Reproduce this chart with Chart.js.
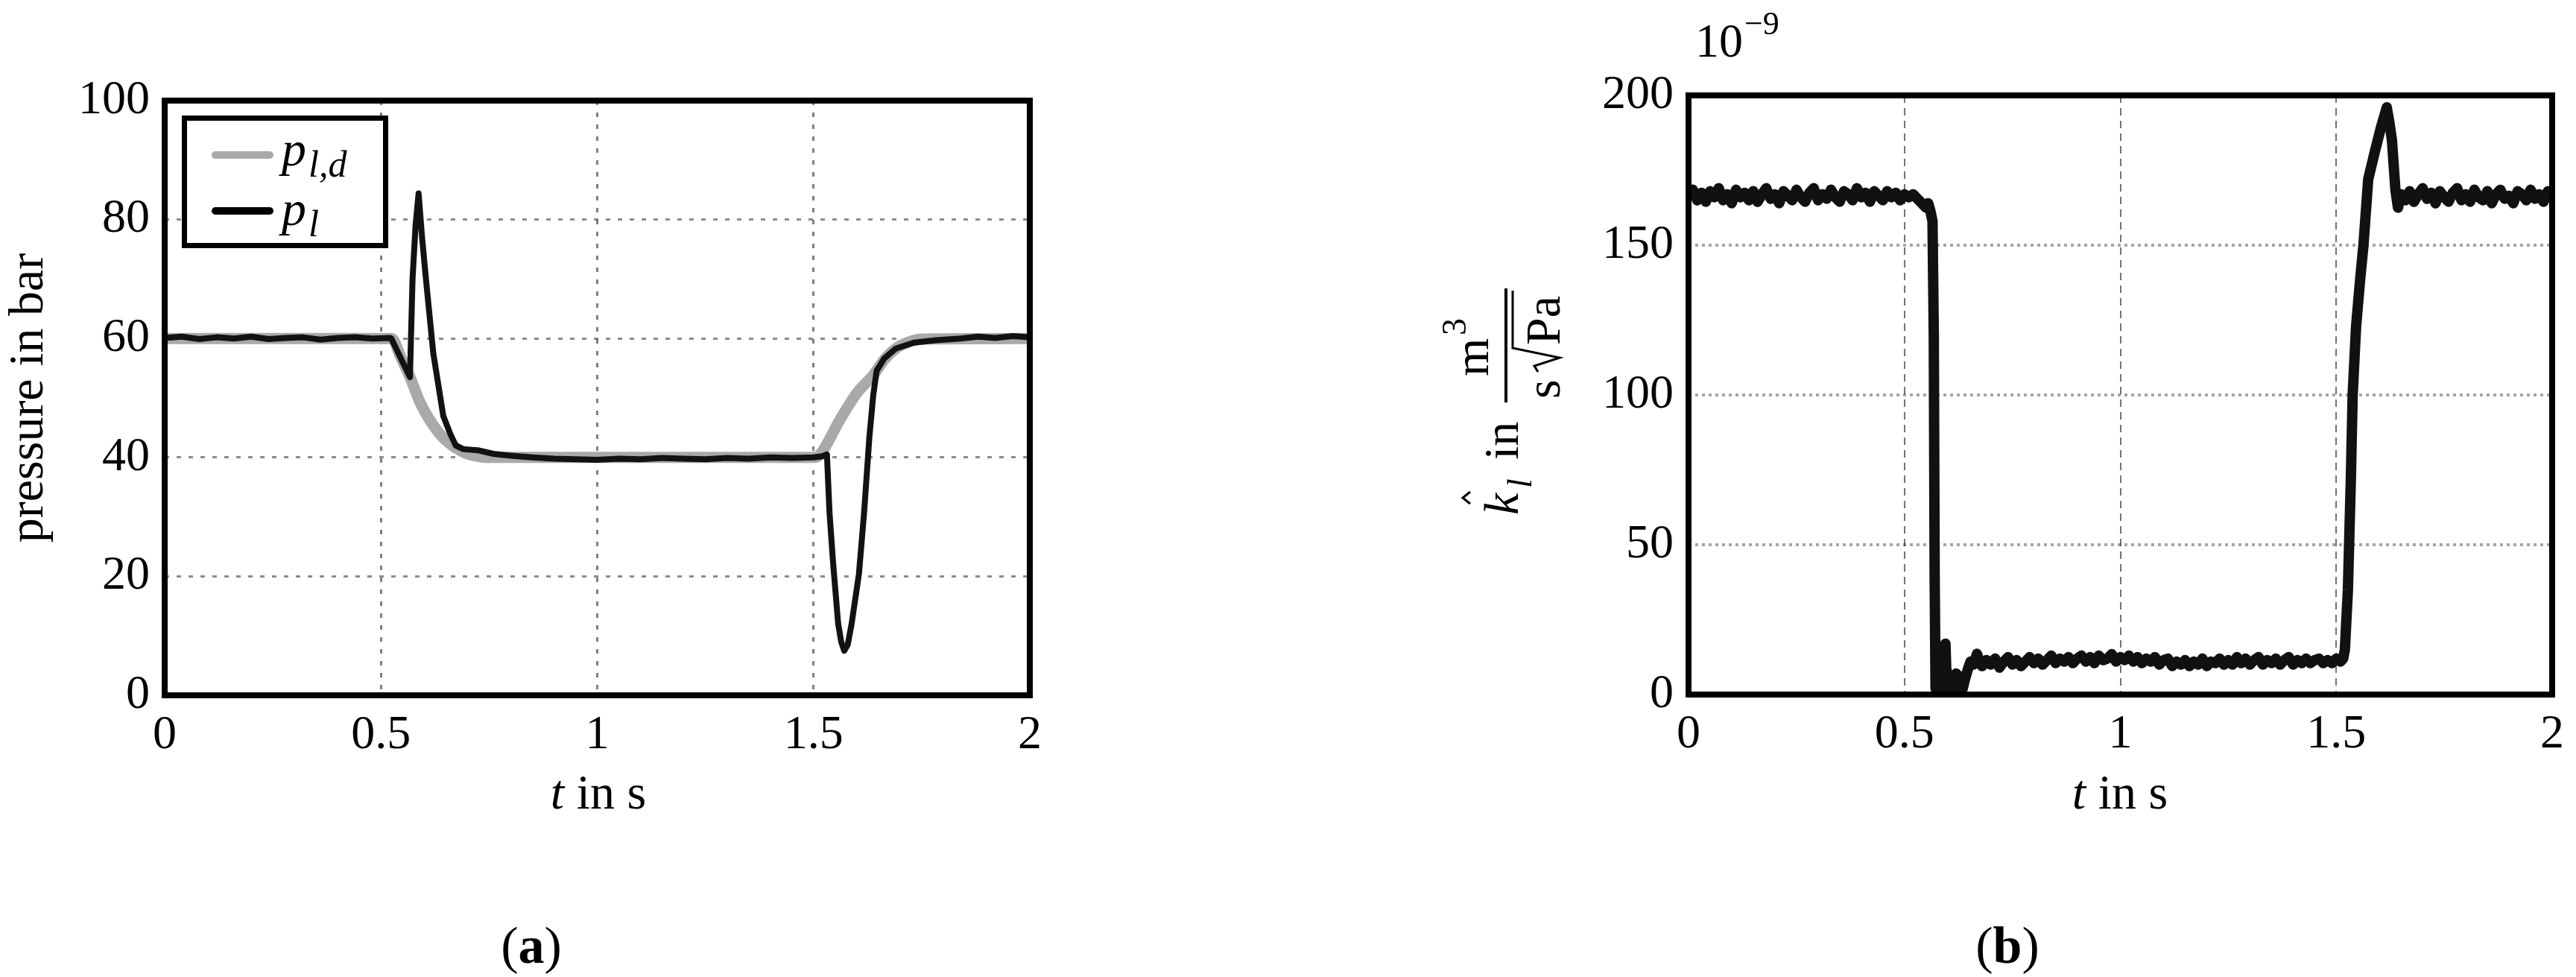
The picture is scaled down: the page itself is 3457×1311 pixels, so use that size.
<!DOCTYPE html>
<html>
<head>
<meta charset="utf-8">
<script src="https://cdn.jsdelivr.net/npm/chart.js@4.4.0/dist/chart.umd.min.js"></script>
<style>
  html, body { margin: 0; padding: 0; background: #fff; }
  body { width: 3457px; height: 1311px; position: relative; overflow: hidden; }
  canvas { position: absolute; top: 0; }
  #chartA { left: 0; }
  #chartB { left: 1720px; }
</style>
</head>
<body>
<canvas id="chartA" width="1720" height="1311"></canvas>
<canvas id="chartB" width="1737" height="1311"></canvas>
<script>
// (a) pressure: measured p_l and desired p_l,d (bar) over t (s)
const tP = [0, 0.04, 0.08, 0.12, 0.16, 0.2, 0.24, 0.28, 0.32, 0.36, 0.4, 0.44, 0.48, 0.52,
    0.524, 0.545, 0.567, 0.573, 0.58, 0.587, 0.595, 0.604, 0.621, 0.644, 0.66, 0.673, 0.69, 0.724,
    0.76, 0.8, 0.85, 0.9, 0.95, 1.0, 1.05, 1.1, 1.15, 1.2, 1.25, 1.3, 1.35, 1.4, 1.45, 1.5, 1.52,
    1.531, 1.537, 1.545, 1.557, 1.564, 1.571, 1.579, 1.588, 1.605, 1.617, 1.629, 1.638, 1.646,
    1.663, 1.69, 1.732, 1.784, 1.84, 1.88, 1.92, 1.96, 2.0];
const pMeas = [60.1, 60.3, 59.9, 60.2, 60.0, 60.3, 59.9, 60.1, 60.2, 59.8, 60.1, 60.2, 60.0, 60.1,
    60.0, 56.8, 53.5, 70, 79, 84.4, 77, 70, 57.5, 47, 44, 42, 41.4, 41.2,
    40.6, 40.3, 40.0, 39.8, 39.7, 39.6, 39.8, 39.7, 39.9, 39.8, 39.7, 39.9, 39.8, 40.0, 39.9, 40.0, 40.2,
    40.5, 30.7, 22.5, 12, 9, 7.5, 8.5, 12, 20.4, 30.8, 43.3, 50.4, 54.6,
    56.6, 58.3, 59.3, 59.7, 60.0, 60.3, 60.1, 60.4, 60.2];
const tD = [0, 0.525, 0.545, 0.567, 0.592, 0.621, 0.644, 0.673, 0.7, 0.73, 0.76,
    1.5, 1.514, 1.56, 1.6, 1.64, 1.663, 1.69, 1.72, 1.75, 2.0];
const pDes = [60, 60, 57, 53.5, 49, 45.4, 43.3, 41.6, 40.6, 40.1, 40,
    40, 40.4, 46.2, 50.8, 54, 56.4, 58.3, 59.4, 59.9, 60];

// (b) estimated k_l (1e-9 m^3/(s sqrt(Pa))) over t (s)
const kTimeA = [0, 0.01, 0.02, 0.03, 0.04, 0.05, 0.06, 0.07, 0.08, 0.09, 0.1, 0.11, 0.12, 0.13, 0.14,
    0.15, 0.16, 0.17, 0.18, 0.19, 0.2, 0.21, 0.22, 0.23, 0.24, 0.25, 0.26, 0.27, 0.28, 0.29, 0.3,
    0.31, 0.32, 0.33, 0.34, 0.35, 0.36, 0.37, 0.38, 0.39, 0.4, 0.41, 0.42, 0.43, 0.44, 0.45, 0.46,
    0.47, 0.48, 0.49, 0.5];
const kValA = [166, 168.5, 165, 167.5, 164.5, 168, 166, 169, 165, 167,
    164, 168.5, 166, 167.5, 165, 168, 164.5, 167, 169, 165.5,
    167, 164, 168, 166.5, 165, 168.5, 166, 164.5, 167.5, 169,
    165, 167, 165.5, 168.5, 166, 164.5, 168, 167, 165, 169,
    166, 167.5, 164.5, 168, 166.5, 165, 168, 166, 167.5, 165,
    167];
const kTimeB = [0.51, 0.52, 0.53, 0.54, 0.55, 0.555, 0.56, 0.565, 0.568, 0.57, 0.572, 0.576, 0.58,
    0.584, 0.588, 0.592, 0.595, 0.598, 0.602, 0.606, 0.61, 0.615, 0.62, 0.625, 0.63, 0.635, 0.64,
    0.646, 0.653, 0.66, 0.668, 0.675];
const kValB = [166, 167, 165.5, 164, 162.5, 164, 161.5, 158, 120, 40, 2, 5, 1,
    6, 2, 4, 17, 3, 7, 1, 6, 2, 7, 3, 6, 2, 5,
    8, 11, 10, 13.6, 10.5];
const kTimeC = [0.68, 0.69, 0.7, 0.71, 0.72, 0.73, 0.74, 0.75, 0.76, 0.77,
    0.78, 0.79, 0.8, 0.81, 0.82, 0.83, 0.84, 0.85, 0.86, 0.87,
    0.88, 0.89, 0.9, 0.91, 0.92, 0.93, 0.94, 0.95, 0.96, 0.97,
    0.98, 0.99, 1.0, 1.01, 1.02, 1.03, 1.04, 1.05, 1.06, 1.07,
    1.08, 1.09, 1.1, 1.11, 1.12, 1.13, 1.14, 1.15, 1.16, 1.17,
    1.18, 1.19, 1.2, 1.21, 1.22, 1.23, 1.24, 1.25, 1.26, 1.27,
    1.28, 1.29, 1.3, 1.31, 1.32, 1.33, 1.34, 1.35, 1.36, 1.37,
    1.38, 1.39, 1.4, 1.41, 1.42, 1.43, 1.44, 1.45, 1.46, 1.47,
    1.48, 1.49, 1.5];
const kValC = [9.5, 11.5, 10, 12, 9, 11, 12.5, 10, 11.5, 9.5,
    11, 12.5, 10.5, 12, 10, 11.5, 13, 10.5, 12, 11,
    12.5, 10.5, 12, 13, 11, 12.5, 10.5, 13, 11.5, 12,
    13.5, 11, 12.5, 11.5, 13, 11, 12.5, 10.5, 12, 11,
    12.5, 10, 11.5, 12, 9.5, 11, 10, 11.5, 9.5, 11,
    10, 12, 9.5, 11, 10.5, 12, 10, 11.5, 10, 12.5,
    10.5, 12, 10, 11.5, 12.5, 10, 11.5, 10.5, 12, 10,
    11.5, 12.5, 10, 11.5, 10.5, 12, 10.5, 11.5, 12, 10.5,
    11.5, 10.5, 12];
const kTimeD = [1.51, 1.516, 1.52, 1.527, 1.534, 1.538, 1.546, 1.555, 1.563, 1.574, 1.589, 1.603,
    1.617, 1.623, 1.629, 1.637, 1.643, 1.65];
const kValD = [11, 12, 15, 35, 73, 100, 123, 138, 150, 172, 181, 189,
    196, 191, 185, 168.5, 162.5, 167];
const kTimeE = [1.66, 1.67, 1.68, 1.69, 1.7, 1.71, 1.72, 1.73, 1.74, 1.75,
    1.76, 1.77, 1.78, 1.79, 1.8, 1.81, 1.82, 1.83, 1.84, 1.85,
    1.86, 1.87, 1.88, 1.89, 1.9, 1.91, 1.92, 1.93, 1.94, 1.95,
    1.96, 1.97, 1.98, 1.99, 2.0];
const kValE = [165, 168, 164.5, 167, 169, 165.5, 167.5, 164, 168, 166,
    164.5, 167.5, 169, 165, 167, 164.5, 168.5, 166, 165, 168,
    164, 167, 168.5, 165.5, 166.5, 164, 168, 167, 165, 168.5,
    165.5, 167, 164.5, 168, 166];

const xTicks = [0, 0.5, 1, 1.5, 2];
const xTickLabels = ['0', '0.5', '1', '1.5', '2'];
const pTicks = [0, 20, 40, 60, 80, 100];
const kTicks = [0, 50, 100, 150, 200];

const SERIF = '"Liberation Serif", "Times New Roman", serif';

const pts = (xs, ys) => xs.map((x, i) => ({ x: x, y: ys[i] }));

function drawFrame(chart, w) {
    const { ctx, chartArea: a } = chart;
    ctx.save();
    ctx.lineWidth = w;
    ctx.strokeStyle = '#000';
    ctx.strokeRect(a.left, a.top, a.right - a.left, a.bottom - a.top);
    ctx.restore();
}

// "t in s" with an italic t, centred on cx
function drawTimeLabel(ctx, cx, baseline) {
    ctx.font = `italic 66px ${SERIF}`;
    const wT = ctx.measureText('t').width;
    ctx.font = `66px ${SERIF}`;
    const wRest = ctx.measureText(' in s').width;
    const x = cx - (wT + wRest) / 2;
    ctx.font = `italic 66px ${SERIF}`;
    ctx.fillText('t', x, baseline);
    ctx.font = `66px ${SERIF}`;
    ctx.fillText(' in s', x + wT, baseline);
}

// caption like "(a)" with bold letter
function drawCaption(ctx, cx, baseline, letter) {
    ctx.font = `70px ${SERIF}`;
    const wp = ctx.measureText('(').width;
    const wq = ctx.measureText(')').width;
    ctx.font = `bold 70px ${SERIF}`;
    const wl = ctx.measureText(letter).width;
    const x = cx - (wp + wl + wq) / 2;
    ctx.font = `70px ${SERIF}`;
    ctx.fillText('(', x, baseline);
    ctx.font = `bold 70px ${SERIF}`;
    ctx.fillText(letter, x + wp, baseline);
    ctx.font = `70px ${SERIF}`;
    ctx.fillText(')', x + wp + wl, baseline);
}

function scaleCommon(ticks, labels, gridColor, gridWidth, dash) {
    return {
        type: 'linear',
        afterBuildTicks: s => { s.ticks = ticks.map(v => ({ value: v })); },
        ticks: {
            padding: 20, color: '#000', font: { family: SERIF, size: 64 }, maxRotation: 0,
            callback: (v, i) => labels ? labels[i] : String(v)
        },
        grid: { color: gridColor, lineWidth: gridWidth, drawTicks: false },
        border: { display: false, dash: dash }
    };
}

const decorA = {
    id: 'decorA',
    afterDraw(chart) {
        const ctx = chart.ctx;
        drawFrame(chart, 8);
        ctx.save();
        // legend box
        ctx.fillStyle = '#fff';
        ctx.fillRect(247, 158, 271, 172);
        ctx.lineWidth = 7;
        ctx.strokeStyle = '#000';
        ctx.strokeRect(247.5, 158.5, 270, 171);
        ctx.lineCap = 'round';
        ctx.lineWidth = 10;
        ctx.strokeStyle = '#a9a9a9';
        ctx.beginPath(); ctx.moveTo(289, 208); ctx.lineTo(362, 208); ctx.stroke();
        ctx.strokeStyle = '#000';
        ctx.beginPath(); ctx.moveTo(289, 283); ctx.lineTo(362, 283); ctx.stroke();
        ctx.fillStyle = '#000';
        ctx.textAlign = 'left';
        ctx.textBaseline = 'alphabetic';
        ctx.font = `italic 66px ${SERIF}`;
        const wp = ctx.measureText('p').width;
        ctx.fillText('p', 378, 222);
        ctx.fillText('p', 378, 302);
        ctx.font = `italic 50px ${SERIF}`;
        ctx.fillText('l,d', 378 + wp + 3, 237);
        ctx.fillText('l', 378 + wp + 3, 317);
        // x label and caption
        drawTimeLabel(ctx, 803, 1085);
        drawCaption(ctx, 713, 1292, 'a');
        ctx.restore();
    }
};

const OFFSET_B = 1720;
const decorB = {
    id: 'decorB',
    afterDraw(chart) {
        const ctx = chart.ctx;
        drawFrame(chart, 8);
        ctx.save();
        ctx.fillStyle = '#000';
        ctx.strokeStyle = '#000';
        ctx.textAlign = 'left';
        ctx.textBaseline = 'alphabetic';
        // exponent 10^-9
        ctx.font = `64px ${SERIF}`;
        ctx.fillText('10', 2275 - OFFSET_B, 76);
        ctx.font = `44px ${SERIF}`;
        ctx.fillText('\u22129', 2341 - OFFSET_B, 46);
        drawTimeLabel(ctx, 2845 - OFFSET_B, 1085);
        drawCaption(ctx, 2694 - OFFSET_B, 1292, 'b');

        // rotated y label: k-hat_l in m^3 / (s sqrt(Pa))
        ctx.translate(2037 - OFFSET_B, 693);
        ctx.rotate(-Math.PI / 2);
        ctx.font = `italic 66px ${SERIF}`;
        ctx.fillText('k', 2, 0);
        ctx.lineWidth = 3;
        ctx.beginPath(); ctx.moveTo(17, -64); ctx.lineTo(25, -74); ctx.lineTo(33, -64); ctx.stroke();
        ctx.font = `italic 46px ${SERIF}`;
        ctx.fillText('l', 38, 18);
        ctx.font = `66px ${SERIF}`;
        ctx.fillText('in', 76, 0);
        ctx.lineWidth = 4;
        ctx.beginPath(); ctx.moveTo(153, -16); ctx.lineTo(306, -16); ctx.stroke();
        ctx.fillText('m', 188, -40);
        ctx.font = `46px ${SERIF}`;
        ctx.fillText('3', 243, -70);
        ctx.font = `66px ${SERIF}`;
        ctx.fillText('s', 158, 56);
        ctx.lineWidth = 3;
        ctx.beginPath();
        ctx.moveTo(194, 27); ctx.lineTo(202, 22); ctx.lineTo(213, 56); ctx.lineTo(226, -7); ctx.lineTo(303, -7);
        ctx.stroke();
        ctx.fillText('Pa', 230, 56);
        ctx.restore();
    }
};

const xScaleA = scaleCommon(xTicks, xTickLabels, 'rgba(0,0,0,0.5)', 3, [6, 10]);
xScaleA.min = 0; xScaleA.max = 2;
xScaleA.ticks.padding = 16;
xScaleA.afterFit = s => { s.height = 150; };
const yScaleA = scaleCommon(pTicks, null, 'rgba(0,0,0,0.45)', 3, [6, 10]);
yScaleA.min = 0; yScaleA.max = 100;
yScaleA.afterFit = s => { s.width = 221; };
yScaleA.title = { display: true, text: 'pressure in bar', color: '#000', font: { family: SERIF, size: 66 }, padding: 0 };

new Chart(document.getElementById('chartA').getContext('2d'), {
    type: 'line',
    data: {
        datasets: [
            { label: 'p_l', data: pts(tP, pMeas), borderColor: '#121212', borderWidth: 8, pointRadius: 0,
              tension: 0, borderJoinStyle: 'round', borderCapStyle: 'round', order: 1 },
            { label: 'p_l,d', data: pts(tD, pDes), borderColor: '#a9a9a9', borderWidth: 15, pointRadius: 0,
              cubicInterpolationMode: 'monotone', borderCapStyle: 'round', order: 2 }
        ]
    },
    options: {
        responsive: false,
        animation: false,
        devicePixelRatio: 1,
        layout: { padding: { left: 0, top: 135, right: 1720 - 1382, bottom: 1311 - 933 - 150 } },
        plugins: { legend: { display: false }, tooltip: { enabled: false } },
        scales: { x: xScaleA, y: yScaleA }
    },
    plugins: [decorA]
});

const xScaleB = scaleCommon(xTicks, xTickLabels, 'rgba(0,0,0,0.55)', 2, [10, 7]);
xScaleB.min = 0; xScaleB.max = 2;
xScaleB.ticks.padding = 16;
xScaleB.afterFit = s => { s.height = 150; };
const yScaleB = scaleCommon(kTicks, null, 'rgba(0,0,0,0.35)', 4, [4, 5]);
yScaleB.min = 0; yScaleB.max = 200;
yScaleB.afterFit = s => { s.width = 2266 - OFFSET_B; };

const kTimes = [...kTimeA, ...kTimeB, ...kTimeC, ...kTimeD, ...kTimeE];
const kValues = [...kValA, ...kValB, ...kValC, ...kValD, ...kValE];

new Chart(document.getElementById('chartB').getContext('2d'), {
    type: 'line',
    data: {
        datasets: [
            { label: 'k_l', data: pts(kTimes, kValues), borderColor: '#111', borderWidth: 14, pointRadius: 0,
              tension: 0, borderJoinStyle: 'round' }
        ]
    },
    options: {
        responsive: false,
        animation: false,
        devicePixelRatio: 1,
        layout: { padding: { left: 0, top: 128, right: 1737 - 1709, bottom: 1311 - 932 - 150 } },
        plugins: { legend: { display: false }, tooltip: { enabled: false } },
        scales: { x: xScaleB, y: yScaleB }
    },
    plugins: [decorB]
});
</script>
</body>
</html>
